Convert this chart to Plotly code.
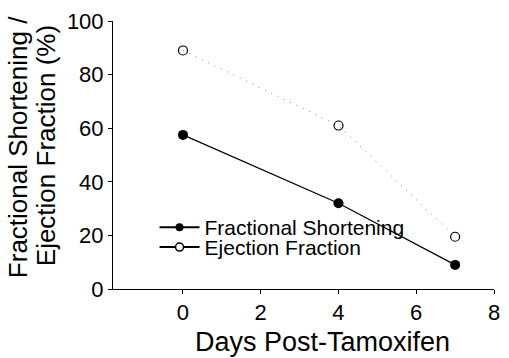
import plotly.graph_objects as go

days = [0, 4, 7]
fractional_shortening = [57.5, 32, 9]
ejection_fraction = [89, 61, 19.5]
x_ticks = [0, 2, 4, 6, 8]
y_ticks = [0, 20, 40, 60, 80, 100]
x_title = "Days Post-Tamoxifen"
y_title_lines = ["Fractional Shortening /", "Ejection Fraction (%)"]

fig = go.Figure()
fig.add_trace(go.Scatter(x=days, y=ejection_fraction, mode="lines+markers", showlegend=False,
                         line=dict(color="#888", width=1, dash="1px,6px"),
                         marker=dict(symbol="circle-open", size=9, color="black", line=dict(width=1.2))))
fig.add_trace(go.Scatter(x=days, y=fractional_shortening, mode="lines+markers", showlegend=False,
                         line=dict(color="black", width=1.2),
                         marker=dict(symbol="circle", size=10, color="black")))
fig.add_trace(go.Scatter(x=[None], y=[None], mode="lines+markers", name="Fractional Shortening",
                         legend="legend",
                         line=dict(color="black", width=2), marker=dict(symbol="circle", size=8, color="black")))
fig.add_trace(go.Scatter(x=[None], y=[None], mode="lines+markers", name="Ejection Fraction",
                         legend="legend2",
                         line=dict(color="black", width=2),
                         marker=dict(symbol="circle", size=8, color="white", line=dict(color="black", width=1.5))))

leg_common = dict(xanchor="left", yanchor="middle", bgcolor="rgba(0,0,0,0)",
                  font=dict(size=21), itemwidth=40)
fig.update_layout(
    width=509, height=358, paper_bgcolor="white", plot_bgcolor="white",
    margin=dict(l=113, r=9, t=16, b=69),
    font=dict(family="Liberation Sans, Arial", color="black", size=22),
    legend=dict(x=0.109, y=0.229, **leg_common),
    legend2=dict(x=0.109, y=0.155, **leg_common),
    xaxis=dict(range=[-1.8, 8], tickvals=x_ticks, showline=True, linecolor="black", linewidth=1,
               ticks="outside", ticklen=4, tickcolor="black", showgrid=False, zeroline=False,
               tickfont=dict(size=22)),
    yaxis=dict(range=[0, 100], tickvals=y_ticks, showline=True, linecolor="black", linewidth=1,
               ticks="outside", ticklen=4, tickcolor="black", showgrid=False, zeroline=False,
               tickfont=dict(size=22)),
    annotations=[
        dict(text=x_title, xref="paper", yref="paper", x=0.551, y=-0.198, xanchor="center", yanchor="middle",
             showarrow=False, font=dict(size=27)),
        dict(text=y_title_lines[0], xref="paper", yref="paper", x=-0.2506, y=0.5275, xanchor="center",
             yanchor="middle", textangle=-90, showarrow=False, font=dict(size=26)),
        dict(text=y_title_lines[1], xref="paper", yref="paper", x=-0.1757, y=0.533, xanchor="center",
             yanchor="middle", textangle=-90, showarrow=False, font=dict(size=26)),
    ],
)
fig.write_html("out.html")
